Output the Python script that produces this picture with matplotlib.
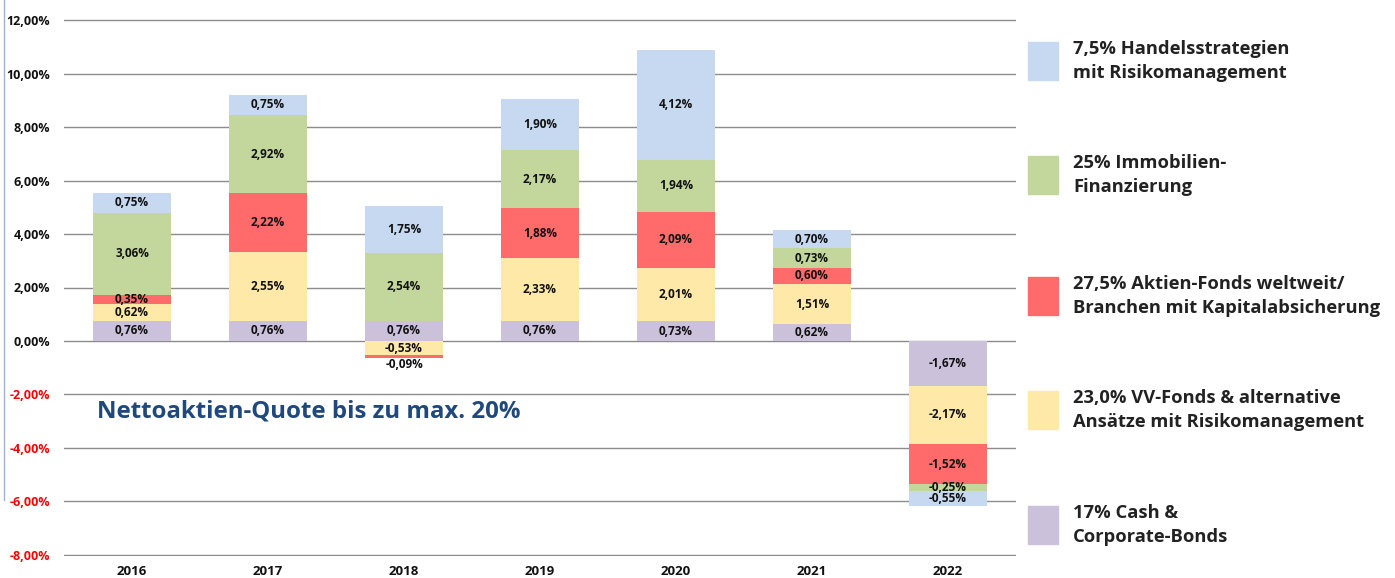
import matplotlib
matplotlib.use("Agg")
import matplotlib.pyplot as plt
import numpy as np
from matplotlib.patches import Rectangle
from matplotlib.lines import Line2D

years = ["2016", "2017", "2018", "2019", "2020", "2021", "2022"]
cash = [0.76, 0.76, 0.76, 0.76, 0.73, 0.62, -1.67]
vv_fonds = [0.62, 2.55, -0.53, 2.33, 2.01, 1.51, -2.17]
aktien = [0.35, 2.22, -0.09, 1.88, 2.09, 0.60, -1.52]
immobilien = [3.06, 2.92, 2.54, 2.17, 1.94, 0.73, -0.25]
handel = [0.75, 0.75, 1.75, 1.90, 4.12, 0.70, -0.55]

series = [cash, vv_fonds, aktien, immobilien, handel]
colors = ["#CCC1DA", "#FFE9A8", "#FF6B6B", "#C3D69B", "#C6D9F1"]
legend_labels = [
    "17% Cash &\nCorporate-Bonds",
    "23,0% VV-Fonds & alternative\nAnsätze mit Risikomanagement",
    "27,5% Aktien-Fonds weltweit/\nBranchen mit Kapitalabsicherung",
    "25% Immobilien-\nFinanzierung",
    "7,5% Handelsstrategien\nmit Risikomanagement",
]
yticks = [-8, -6, -4, -2, 0, 2, 4, 6, 8, 10, 12]
annotation = "Nettoaktien-Quote bis zu max. 20%"

FONT = "Open Sans"
W, H = 1395, 578
fig = plt.figure(figsize=(W / 100, H / 100), dpi=100)
ax = fig.add_axes([64 / W, 1 - 556.3 / H, (1016 - 64) / W, (556.3 - 18.7) / H])

x = np.arange(len(years))
pos_base = np.zeros(len(years))
neg_base = np.zeros(len(years))
bw = 0.57
for vals, col in zip(series, colors):
    vals = np.array(vals)
    bottoms = np.where(vals >= 0, pos_base, neg_base)
    ax.bar(x, vals, bw, bottom=bottoms, color=col, edgecolor="none", zorder=3)
    for xi, v, b in zip(x, vals, bottoms):
        lab = f"{v:.2f}".replace(".", ",") + "%"
        if -0.15 < v < 0:
            ypos, va = b + v - 0.02, "top"
        else:
            ypos, va = b + v / 2, "center"
        ax.text(xi, ypos, lab, ha="center", va=va, fontsize=8.5,
                fontweight="bold", color="#111111", zorder=4, family=FONT)
    pos_base = np.where(vals >= 0, pos_base + vals, pos_base)
    neg_base = np.where(vals < 0, neg_base + vals, neg_base)

ax.set_xlim(-0.5, 6.5)
ax.set_ylim(-8.05, 12.05)
ax.set_yticks(yticks)
ax.set_yticklabels([f"{t:.2f}".replace(".", ",") + "%" for t in yticks])
for t, lab in zip(yticks, ax.get_yticklabels()):
    lab.set_color("#FF0000" if t < 0 else "#111111")
    lab.set_fontweight("bold")
    lab.set_fontsize(9)
    lab.set_family(FONT)
ax.set_xticks(x)
ax.set_xticklabels(years, fontsize=9.5, fontweight="bold", family=FONT, color="#111111")
ax.tick_params(axis="both", length=0)
ax.tick_params(axis="y", pad=10)
ax.tick_params(axis="x", pad=6)
ax.grid(axis="y", color="#8C8C8C", linewidth=1.0, zorder=0)
ax.set_axisbelow(True)
for s in ax.spines.values():
    s.set_visible(False)

ax.text(-0.26, -2.62, annotation, ha="left", va="center", fontsize=17.3,
        fontweight="bold", color="#1F497D", family=FONT, zorder=5)

# left thin vertical line
fig.add_artist(Line2D([4 / W, 4 / W], [1 - 0 / H, 1 - 500 / H], color="#9DB3D1", linewidth=1))

# legend
centers = [525, 410, 296, 175, 61]
for lab, col, cy in zip(legend_labels, colors, centers):
    fig.add_artist(Rectangle((1028 / W, 1 - (cy + 19) / H), 30 / W, 38 / H,
                             transform=fig.transFigure, color=col))
    fig.text(1073 / W, 1 - cy / H, lab, ha="left", va="center", fontsize=13.2,
             fontweight="bold", color="#222222", family=FONT, linespacing=1.45)

fig.savefig("out.png", dpi=100)
